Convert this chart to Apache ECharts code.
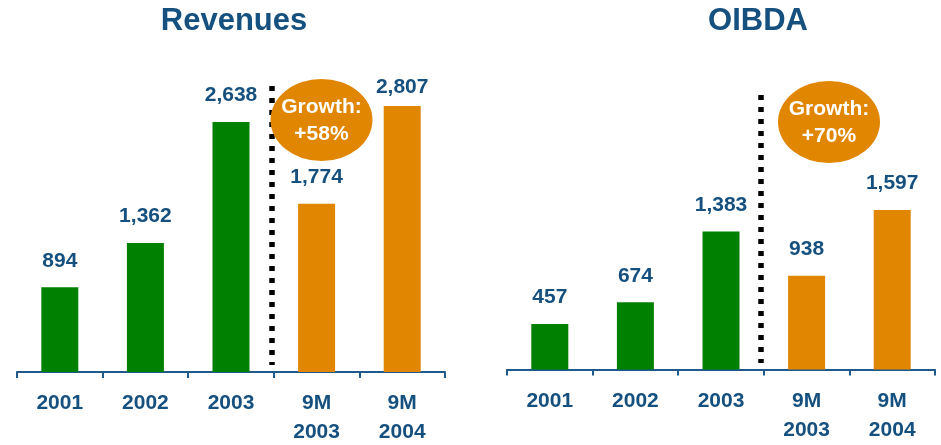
<!DOCTYPE html>
<html>
<head>
<meta charset="utf-8">
<script src="https://cdn.jsdelivr.net/npm/echarts@6/dist/echarts.min.js"></script>
<style>
  html, body { margin: 0; padding: 0; background: #fff; }
  #chart { width: 941px; height: 445px; }
</style>
</head>
<body>
<div id="chart"></div>
<script>
// Periods shown on both panels
const categories = ['2001', '2002', '2003', '9M\n2003', '9M\n2004'];
// Full year vs. nine-month periods (colour groups)
const periodKind = ['FY', 'FY', 'FY', '9M', '9M'];
// Revenues and OIBDA per period
const revenues = [894, 1362, 2638, 1774, 2807];
const oibda = [457, 674, 1383, 938, 1597];

const FONT = '"Liberation Sans", Arial, Helvetica, sans-serif';
const BLUE = '#16507F';
const AXIS = '#1F5A8A';
const GREEN = '#008000';
const ORANGE = '#E08600';

const fmt = v => v.toLocaleString('en-US');
const growth = arr => '+' + Math.round((arr[4] / arr[3] - 1) * 100) + '%';

function barSeries(values, gridIdx, lastLabelDistance) {
  return {
    type: 'bar',
    xAxisIndex: gridIdx,
    yAxisIndex: gridIdx,
    barWidth: 37,
    data: values.map((v, i) => {
      const item = { value: v };
      if (lastLabelDistance != null && i === values.length - 1) {
        item.label = { distance: lastLabelDistance };
      }
      return item;
    }),
    itemStyle: {
      color: p => periodKind[p.dataIndex] === 'FY' ? GREEN : ORANGE
    },
    label: {
      show: true,
      position: 'top',
      distance: 16,
      formatter: p => fmt(p.value),
      color: BLUE,
      fontFamily: FONT,
      fontWeight: 'bold',
      fontSize: 21
    },
    animation: false
  };
}

function xAxis(gridIdx) {
  return {
    type: 'category',
    gridIndex: gridIdx,
    data: categories,
    axisLine: { show: true, lineStyle: { color: AXIS, width: 2 } },
    axisTick: { show: true, alignWithLabel: false, length: 6, lineStyle: { color: AXIS, width: 2 } },
    axisLabel: {
      color: BLUE,
      fontFamily: FONT,
      fontWeight: 'bold',
      fontSize: 21,
      lineHeight: 29,
      margin: 17,
      interval: 0
    },
    splitLine: { show: false }
  };
}

function yAxis(gridIdx) {
  return { type: 'value', gridIndex: gridIdx, min: 0, max: 3000, show: false };
}

function title(text, x) {
  return {
    type: 'text', x: x, y: 21,
    style: {
      text: text, textAlign: 'center', textVerticalAlign: 'middle',
      fill: BLUE, font: 'bold 31px ' + FONT
    }
  };
}

function divider(x, y1, y2) {
  return {
    type: 'line',
    shape: { x1: x, y1: y1, x2: x, y2: y2 },
    style: { stroke: '#000', lineWidth: 5.5, lineDash: [5, 7] }
  };
}

function bubble(cx, cy, text) {
  return [
    {
      type: 'circle', x: cx, y: cy, scaleX: 1, scaleY: 41 / 51,
      shape: { cx: 0, cy: 0, r: 51 },
      style: { fill: ORANGE }
    },
    {
      type: 'text', x: cx, y: cy - 13,
      style: {
        text: 'Growth:', textAlign: 'center', textVerticalAlign: 'middle',
        fill: '#fff', font: 'bold 21px ' + FONT
      }
    },
    {
      type: 'text', x: cx, y: cy + 14,
      style: {
        text: text, textAlign: 'center', textVerticalAlign: 'middle',
        fill: '#fff', font: 'bold 21px ' + FONT
      }
    }
  ];
}

const chart = echarts.init(document.getElementById('chart'), null, { renderer: 'canvas' });
chart.setOption({
  animation: false,
  grid: [
    { left: 17, width: 428, top: 87.6, height: 284.4, outerBoundsMode: 'none' },
    { left: 507, width: 428, top: 70, height: 299.5, outerBoundsMode: 'none' }
  ],
  xAxis: [xAxis(0), xAxis(1)],
  yAxis: [yAxis(0), yAxis(1)],
  series: [barSeries(revenues, 0, 8), barSeries(oibda, 1, null)],
  graphic: [
    title('Revenues', 234),
    title('OIBDA', 758),
    divider(272, 86, 365),
    divider(761, 95, 363),
    ...bubble(321.5, 120, growth(revenues)),
    ...bubble(829, 122, growth(oibda))
  ]
});
</script>
</body>
</html>
